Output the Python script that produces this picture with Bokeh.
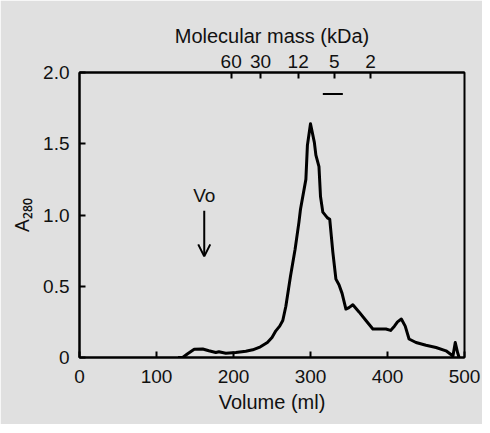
from bokeh.plotting import figure
from bokeh.models import (Range1d, LinearAxis, FixedTicker, Label, Arrow, OpenHead)
from bokeh.embed import file_html
from bokeh.resources import INLINE

# ---- data ----
volume_ml = [128, 134, 140, 149, 160, 168, 177, 181, 190, 203, 216, 225, 235, 244, 250,
             255, 260, 264, 268, 274, 280, 285, 287, 294, 296, 300, 305, 307, 311, 313,
             316, 322, 325, 329, 333, 337, 341, 346, 350, 355, 363, 372, 381, 391, 398,
             404, 409, 413, 418, 423, 428, 437, 450, 463, 476, 482, 485, 488, 491, 493]
a280 = [0.0, 0.0, 0.025, 0.058, 0.06, 0.047, 0.035, 0.04, 0.03, 0.035, 0.044, 0.054, 0.075, 0.105, 0.14,
        0.187, 0.22, 0.26, 0.36, 0.57, 0.76, 0.95, 1.04, 1.25, 1.49, 1.64, 1.51, 1.42, 1.34, 1.13,
        1.02, 0.98, 0.97, 0.74, 0.55, 0.51, 0.45, 0.34, 0.35, 0.37, 0.32, 0.26, 0.20, 0.20, 0.20,
        0.19, 0.22, 0.25, 0.27, 0.22, 0.13, 0.105, 0.086, 0.07, 0.047, 0.023, 0.01, 0.105, 0.035, 0.0]

x_ticks = [0, 100, 200, 300, 400, 500]
y_ticks = [0, 0.5, 1.0, 1.5, 2.0]
y_tick_labels = ["0", "0.5", "1.0", "1.5", "2.0"]

mass_labels = ["60", "30", "12", "5", "2"]
mass_positions = [197, 235, 284, 331, 378]   # elution volume of each marker

bar_x = [316, 342]      # fraction bar
bar_y = [1.85, 1.85]

vo_volume = 162
vo_text_y = 1.14
vo_arrow_y = [1.03, 0.71]

BG = "#e0e0e0"
FONT = "Liberation Sans"
INK = "#111111"

p = figure(width=482, height=424, output_backend="svg", toolbar_location=None,
           x_range=Range1d(0, 500), y_range=Range1d(0, 2.0))
p.min_border_left = 79
p.min_border_right = 18
p.min_border_top = 72
p.min_border_bottom = 67
p.background_fill_color = BG
p.border_fill_color = BG
p.outline_line_color = "black"
p.outline_line_width = 2
p.xgrid.visible = False
p.ygrid.visible = False

def style_axis(ax):
    ax.axis_line_width = 2
    ax.axis_line_color = "black"
    ax.major_tick_line_width = 2
    ax.major_tick_in = 6
    ax.major_tick_out = 0
    ax.minor_tick_line_color = None
    ax.major_label_text_font = FONT
    ax.major_label_text_font_size = "19px"
    ax.major_label_text_color = INK
    ax.axis_label_text_font = FONT
    ax.axis_label_text_font_size = "20px"
    ax.axis_label_text_font_style = "normal"
    ax.axis_label_text_color = INK

xa = p.xaxis[0]
style_axis(xa)
xa.ticker = FixedTicker(ticks=x_ticks)
xa.axis_label = "Volume (ml)"
xa.major_label_standoff = 12
xa.axis_label_standoff = 5

ya = p.yaxis[0]
style_axis(ya)
ya.ticker = FixedTicker(ticks=y_ticks)
ya.major_label_overrides = {t: s for t, s in zip(y_ticks, y_tick_labels)}
ya.major_label_standoff = 10
ya.axis_label = "A\u2082\u2088\u2080"
ya.axis_label_text_font = "Noto Sans"
ya.axis_label_standoff = 5

top = LinearAxis(ticker=FixedTicker(ticks=mass_positions),
                 major_label_overrides={t: s for t, s in zip(mass_positions, mass_labels)},
                 axis_label="Molecular mass (kDa)")
style_axis(top)
top.major_label_standoff = 5
top.axis_label_standoff = 5
p.add_layout(top, "above")

p.line(volume_ml, a280, line_color="black", line_width=3, line_join="round")
p.line(bar_x, bar_y, line_color="black", line_width=2)

p.add_layout(Label(x=vo_volume, y=vo_text_y, text="Vo", text_align="center",
                   text_baseline="middle", text_font=FONT, text_font_size="19px",
                   text_color=INK))
p.add_layout(Arrow(x_start=vo_volume, y_start=vo_arrow_y[0], x_end=vo_volume, y_end=vo_arrow_y[1],
                   line_width=2, line_color="black",
                   end=OpenHead(size=12, line_width=2, line_color="black")))

open("out.html", "w").write(file_html(p, INLINE))
